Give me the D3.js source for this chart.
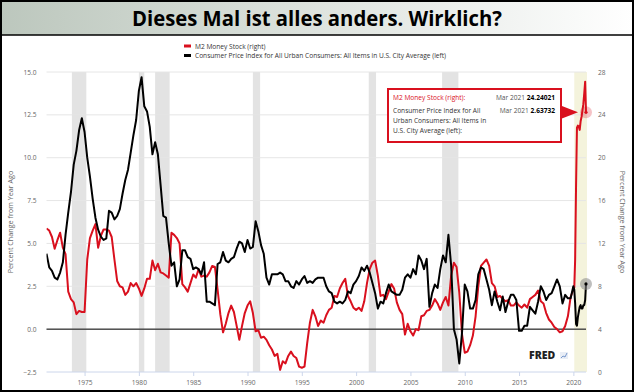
<!DOCTYPE html>
<html>
<head>
<meta charset="utf-8">
<script src="https://cdn.jsdelivr.net/npm/d3@7"></script>
<style>
  body { margin: 0; background: #fff; }
  svg { display: block; font-family: "Open Sans", sans-serif; }
</style>
</head>
<body>
<svg id="chart" width="634" height="392"></svg>
<script>
const title = "Dieses Mal ist alles anders. Wirklich?"
const legendLabels = [
  "M2 Money Stock (right)",
  "Consumer Price Index for All Urban Consumers: All Items in U.S. City Average (left)"
]
const axisTitle = "Percent Change from Year Ago"

const recessions = [
  ["1973-11-01", "1975-03-01"], ["1980-01-01", "1980-07-01"], ["1981-07-01", "1982-11-01"],
  ["1990-07-01", "1991-03-01"], ["2001-03-01", "2001-11-01"], ["2007-12-01", "2009-06-01"]
]
const lastRecession = ["2020-02-01", "2021-03-01"]

const leftTicks = [-2.5, 0, 2.5, 5, 7.5, 10, 12.5, 15]
const rightTicks = [0, 4, 8, 12, 16, 20, 24, 28]
const yearTicks = [1975, 1980, 1985, 1990, 1995, 2000, 2005, 2010, 2015, 2020]

// quarterly readings (Jan, Apr, Jul, Oct), Jul 1971 .. Oct 2019
const cpiQuarterly = [
  4.4, 3.6,
  3.4, 3.0, 2.9, 3.3,   3.9, 5.5, 6.8, 8.0,   9.6, 10.4, 11.6, 12.3,   11.5, 10.0, 8.9, 7.6,
  6.5, 5.8, 5.4, 5.2,   5.3, 6.9, 6.8, 6.4,   6.6, 7.0, 7.9, 8.7,      9.3, 10.3, 11.3, 12.2,
  13.9, 14.7, 13.0, 12.7, 11.8, 10.2, 10.9, 10.2, 8.4, 6.6, 6.5, 5.0,  3.7, 3.9, 2.5, 2.9,
  4.6, 4.6, 4.2, 4.1,   3.5, 3.6, 3.5, 3.2,   3.9, 1.6, 1.6, 1.5,      1.4, 3.8, 3.9, 4.5,
  4.0, 3.9, 4.1, 4.2,   4.7, 5.1, 5.0, 4.5,   5.2, 4.7, 4.8, 6.3,      5.7, 4.9, 4.4, 3.0,
  2.6, 3.2, 3.2, 3.2,   3.3, 3.2, 2.8, 2.8,   2.5, 2.4, 2.8, 2.6,      2.9, 3.1, 2.7, 2.8,
  2.7, 2.9, 3.0, 3.0,   3.0, 2.5, 2.2, 2.1,   1.6, 1.5, 1.6, 1.5,      1.7, 2.2, 2.1, 2.6,
  2.8, 3.1, 3.6, 3.4,   3.7, 3.3, 2.7, 2.1,   1.2, 1.6, 1.5, 2.1,      2.6, 2.2, 2.1, 2.0,
  2.0, 2.3, 3.0, 3.2,   3.0, 3.5, 3.2, 4.3,   4.0, 3.5, 4.1, 1.3,      2.1, 2.6, 2.4, 3.5,
  4.3, 3.9, 5.5, 3.7,   0.0, -0.6, -2.0, -0.2, 2.6, 2.2, 1.2, 1.2,     1.7, 3.2, 3.6, 3.5,
  2.9, 2.3, 1.4, 2.2,   1.6, 1.1, 1.9, 1.0,   1.6, 2.0, 2.0, 1.7,      -0.1, -0.1, 0.2, 0.2,
  1.3, 1.1, 0.9, 1.6,   2.5, 2.2, 1.7, 2.0,   2.1, 2.5, 2.9, 2.5,      1.5, 2.0, 1.8, 1.8
]
const m2Quarterly = [
  13.4, 13.2,
  12.6, 11.5, 12.3, 13.0, 11.6, 11.0, 7.5, 6.8,  6.5, 5.4, 5.7, 5.6,   5.6, 10.5, 12.5, 13.2,
  13.8, 11.6, 12.7, 13.3, 13.3, 13.2, 12.6, 10.5, 8.5, 8.0, 7.9, 7.2,  7.5, 8.3, 8.0, 8.3,
  7.8, 7.1, 7.8, 8.7,   8.7, 10.4, 9.5, 10.1,  9.3, 9.2, 9.0, 8.8,     13.0, 12.8, 12.5, 12.0,
  8.2, 7.9, 7.5, 8.3,   9.1, 8.8, 9.6, 8.9,    9.0, 8.9, 9.3, 9.9,     9.8, 7.7, 5.4, 3.7,
  4.5, 5.5, 6.2, 5.6,   4.3, 3.0, 4.3, 5.5,    6.2, 6.6, 5.5, 3.8,     3.9, 3.2, 3.3, 3.0,
  2.5, 2.1, 1.5, 1.7,   0.2, 1.0, 0.8, 1.5,    1.9, 1.5, 1.3, 0.5,     0.4, 0.5, 2.7, 4.6,
  5.8, 5.2, 4.3, 4.8,   4.6, 5.3, 5.8, 6.0,    7.1, 7.0, 7.8, 8.3,     8.7, 7.1, 6.6, 6.0,
  5.8, 6.0, 5.7, 6.6,   8.3, 9.6, 10.2, 10.4,  9.0, 7.1, 7.2, 6.8,     7.5, 8.2, 7.8, 6.5,
  5.8, 5.4, 3.5, 4.5,   3.8, 3.4, 4.0, 3.9,    5.2, 5.3, 5.7, 5.8,     6.2, 6.8, 6.4, 5.8,
  6.5, 7.0, 6.2, 9.0,   10.2, 9.8, 7.4, 3.5,   1.8, 1.9, 2.5, 3.4,     5.2, 8.0, 9.9, 10.2,
  10.5, 9.9, 8.3, 8.0,  7.0, 7.1, 6.8, 6.6,    6.7, 6.2, 6.2, 6.5,     6.2, 6.0, 6.3, 6.0,
  6.8, 7.0, 7.2, 7.6,   6.6, 6.4, 5.5, 4.9,    4.6, 4.2, 4.0, 3.7,     3.8, 4.3, 5.2, 7.0
]
// monthly readings, Jan 2020 .. Mar 2021
const cpiMonthly = [2.5, 2.3, 1.5, 0.3, 0.2, 0.7, 1.0, 1.3, 1.4, 1.2, 1.2, 1.4, 1.4, 1.7, 2.63732]
const m2Monthly = [7.7, 7.9, 10.5, 17.5, 22.8, 23.0, 22.9, 22.6, 23.4, 23.8, 24.4, 25.0, 26.0, 27.1, 24.24021]

const parse = d3.timeParse("%Y-%m-%d")
const dates = d3.timeMonth.every(3).range(parse("1971-07-01"), parse("2020-01-01"))
  .concat(d3.timeMonth.range(parse("2020-01-01"), parse("2021-04-01")))
const cpi = dates.map((d, i) => ({ date: d, v: cpiQuarterly.concat(cpiMonthly)[i] }))
const m2 = dates.map((d, i) => ({ date: d, v: m2Quarterly.concat(m2Monthly)[i] }))

const width = 634, height = 392
const margin = { top: 72, right: 48, bottom: 20, left: 46.5 }
const red = "#d9101e"

const svg = d3.select("#chart")

// title bar
const grad = svg.append("defs").append("linearGradient").attr("id", "tg")
grad.append("stop").attr("offset", "0%").attr("stop-color", "#bcc7bd")
grad.append("stop").attr("offset", "100%").attr("stop-color", "#ffffff")
svg.append("rect").attr("x", 0).attr("y", 0).attr("width", width).attr("height", 35).attr("fill", "url(#tg)")
svg.append("line").attr("x1", 0).attr("x2", width).attr("y1", 35).attr("y2", 35).attr("stroke", "#000").attr("stroke-width", 1.5)
svg.append("text").attr("x", width / 2).attr("y", 26).attr("text-anchor", "middle")
  .attr("font-size", 22).attr("font-weight", 700).attr("fill", "#000")
  .attr("textLength", 370).attr("lengthAdjust", "spacingAndGlyphs").text(title)

// legend
const legend = svg.append("g").attr("transform", "translate(184,46)")
legendLabels.forEach((t, i) => {
  legend.append("rect").attr("x", 0).attr("y", i * 9.5 - 1.5).attr("width", 7).attr("height", 3)
    .attr("fill", i === 0 ? red : "#000")
  legend.append("text").attr("x", 11).attr("y", i * 9.5 + 2.5).attr("font-size", 6.6).attr("fill", "#333").text(t)
})

const x = d3.scaleTime()
  .domain([parse("1971-07-01"), parse("2021-03-01")])
  .range([margin.left, width - margin.right])
const yLeft = d3.scaleLinear().domain([-2.5, 15]).range([height - margin.bottom, margin.top])
const yRight = d3.scaleLinear().domain([0, 28]).range([height - margin.bottom, margin.top])

// recession shading
svg.append("g").selectAll("rect").data(recessions).join("rect")
  .attr("x", d => x(parse(d[0]))).attr("width", d => x(parse(d[1])) - x(parse(d[0])))
  .attr("y", margin.top).attr("height", height - margin.bottom - margin.top)
  .attr("fill", "#e3e3e3")
svg.append("rect")
  .attr("x", x(parse(lastRecession[0]))).attr("width", x(parse(lastRecession[1])) - x(parse(lastRecession[0])) + 1)
  .attr("y", margin.top).attr("height", height - margin.bottom - margin.top)
  .attr("fill", "#f4f3dc")

// grid
svg.append("g").selectAll("line").data(leftTicks).join("line")
  .attr("x1", margin.left).attr("x2", width - margin.right)
  .attr("y1", d => yLeft(d)).attr("y2", d => yLeft(d))
  .attr("stroke", d => d === -2.5 ? "#ccd6eb" : "#e6e6e6").attr("stroke-width", 1)

// axes
const leftAxis = svg.append("g").attr("transform", `translate(${margin.left - 7},0)`)
  .call(d3.axisLeft(yLeft).tickValues(leftTicks).tickFormat(d3.format(".1f")).tickSize(0))
const rightAxis = svg.append("g").attr("transform", `translate(${width - margin.right + 9},0)`)
  .call(d3.axisRight(yRight).tickValues(rightTicks).tickSize(0))
const bottomAxis = svg.append("g").attr("transform", `translate(0,${height - margin.bottom})`)
  .call(d3.axisBottom(x).tickValues(yearTicks.map(y => new Date(y, 0, 1))).tickFormat(d3.timeFormat("%Y")).tickSize(4).tickPadding(4))
;[leftAxis, rightAxis, bottomAxis].forEach(a => {
  a.select(".domain").remove()
  a.selectAll("text").attr("font-size", 6.6).attr("fill", "#666").attr("font-family", "Open Sans, sans-serif")
  a.selectAll("line").attr("stroke", "#ccd6eb")
})

svg.append("text").attr("transform", `translate(13,${(margin.top + height - margin.bottom) / 2}) rotate(-90)`)
  .attr("text-anchor", "middle").attr("font-size", 7.2).attr("fill", "#666").text(axisTitle)
svg.append("text").attr("transform", `translate(620,${(margin.top + height - margin.bottom) / 2}) rotate(90)`)
  .attr("text-anchor", "middle").attr("font-size", 7.2).attr("fill", "#666").text(axisTitle)

// zero line
svg.append("line").attr("x1", margin.left).attr("x2", width - margin.right)
  .attr("y1", yLeft(0)).attr("y2", yLeft(0)).attr("stroke", "#000").attr("stroke-width", 1)

// series
svg.append("clipPath").attr("id", "plot").append("rect")
  .attr("x", margin.left).attr("y", margin.top - 2)
  .attr("width", width - margin.left - margin.right + 2).attr("height", height - margin.top - margin.bottom + 2)
const plot = svg.append("g").attr("clip-path", "url(#plot)")
plot.append("path").datum(m2)
  .attr("d", d3.line().x(d => x(d.date)).y(d => yRight(d.v)))
  .attr("fill", "none").attr("stroke", red).attr("stroke-width", 2).attr("stroke-linejoin", "round")
plot.append("path").datum(cpi)
  .attr("d", d3.line().x(d => x(d.date)).y(d => yLeft(d.v)))
  .attr("fill", "none").attr("stroke", "#000").attr("stroke-width", 2).attr("stroke-linejoin", "round")

// hover markers on the last points
const lastM2 = m2[m2.length - 1], lastCpi = cpi[cpi.length - 1]
svg.append("circle").attr("cx", x(lastM2.date)).attr("cy", yRight(lastM2.v)).attr("r", 6).attr("fill", red).attr("fill-opacity", 0.25)
svg.append("circle").attr("cx", x(lastM2.date)).attr("cy", yRight(lastM2.v)).attr("r", 1.6).attr("fill", red)
svg.append("circle").attr("cx", x(lastCpi.date)).attr("cy", yLeft(lastCpi.v)).attr("r", 6).attr("fill", "#888").attr("fill-opacity", 0.55)
svg.append("circle").attr("cx", x(lastCpi.date)).attr("cy", yLeft(lastCpi.v)).attr("r", 1.6).attr("fill", "#000")

// tooltip
const tipX = 388, tipY = 89, tipW = 173, tipH = 53
const tip = svg.append("g")
tip.append("path")
  .attr("d", `M${tipX + tipW - 1},${yRight(lastM2.v) - 7} L${x(lastM2.date) - 8},${yRight(lastM2.v)} L${tipX + tipW - 1},${yRight(lastM2.v) + 7} Z`)
  .attr("fill", red)
tip.append("rect").attr("x", tipX).attr("y", tipY).attr("width", tipW).attr("height", tipH)
  .attr("fill", "#fff").attr("fill-opacity", 0.95).attr("stroke", red).attr("stroke-width", 2)
const tt = tip.append("g").attr("font-size", 6.6)
tt.append("text").attr("x", tipX + 5).attr("y", tipY + 11).attr("fill", red).text("M2 Money Stock (right):")
;["Consumer Price Index for All", "Urban Consumers: All Items in", "U.S. City Average (left):"].forEach((t, i) => {
  tt.append("text").attr("x", tipX + 5).attr("y", tipY + 24 + i * 10).attr("fill", "#333").text(t)
})
const valueRow = (yy, v) => {
  const t = tt.append("text").attr("x", tipX + tipW - 6).attr("y", yy).attr("text-anchor", "end").attr("fill", "#555")
  t.append("tspan").text("Mar 2021 ")
  t.append("tspan").attr("font-weight", 700).attr("fill", "#000").text(v)
}
valueRow(tipY + 11, lastM2.v.toFixed(5))
valueRow(tipY + 24, lastCpi.v.toFixed(5))

// FRED mark
const fred = svg.append("g").attr("transform", "translate(529,359)")
fred.append("text").attr("font-size", 10.5).attr("font-weight", 800).attr("fill", "#222").text("FRED")
fred.append("rect").attr("x", 31).attr("y", -7).attr("width", 8).attr("height", 7).attr("fill", "#e9eef6")
fred.append("path").attr("d", "M32,-1 L34,-3 L36,-2 L38,-6").attr("fill", "none").attr("stroke", "#5b82c0").attr("stroke-width", 0.8)

// outer frame
svg.append("rect").attr("x", 1).attr("y", 1).attr("width", width - 2).attr("height", height - 2)
  .attr("fill", "none").attr("stroke", "#000").attr("stroke-width", 2)
</script>
</body>
</html>
